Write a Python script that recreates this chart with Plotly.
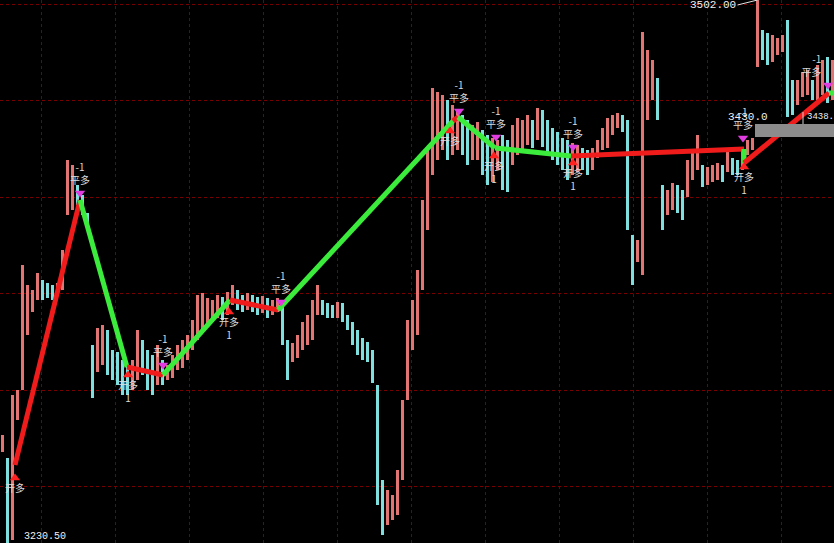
import plotly.graph_objects as go

# ---- price cloud (one column per ~5px of the screenshot) ----
highs = [3284.5, 3273, 3304.5, 3307, 3369.5, 3359.5, 3357, 3365.5, 3362, 3360.5,
         3359.5, 3360.5, 3377, 3422, 3419.5, 3409.5, 3404.5, 3395.5, 3329.5, 3338,
         3339.5, 3337, 3327, 3326, 3322, 3319.5, 3322, 3337, 3332, 3327,
         3324.5, 3329.5, 3322, 3319.5, 3324.5, 3329.5, 3332, 3334.5, 3342, 3354.5,
         3355.5, 3353, 3352, 3354.5, 3353.5, 3356, 3359.5, 3357, 3354.5, 3355.5,
         3354.5, 3353.5, 3354, 3353, 3352, 3353, 3349.5, 3332, 3330.5, 3334.5,
         3341, 3344.5, 3352, 3359.5, 3352, 3350.5, 3349.5, 3351, 3350.5, 3344.5,
         3341, 3337, 3333, 3331, 3327, 3309.5, 3262, 3257, 3254.5, 3267,
         3302, 3342, 3352, 3367, 3402, 3427, 3458, 3456, 3454.5, 3452,
         3449.5, 3447, 3444.5, 3442, 3439.5, 3441, 3437, 3434.5, 3433, 3432,
         3434.5, 3432, 3439.5, 3443, 3442, 3444.5, 3442, 3448, 3447, 3442,
         3438, 3436, 3433, 3432, 3430.5, 3429.5, 3428, 3427, 3428, 3432,
         3438, 3443, 3444.5, 3445.5, 3444.5, 3442, 3384.5, 3382, 3486, 3477,
         3472, 3463, 3409.5, 3407, 3410.5, 3409.5, 3407, 3422, 3427, 3434.5,
         3419.5, 3418.5, 3419.5, 3420.5, 3419.5, 3427, 3423, 3422, 3428.5, 3432,
         3433, 3502, 3487, 3485.5, 3484.5, 3483, 3484.5, 3492, 3462, 3462,
         3466, 3467, 3462, 3469.5, 3472, 3473.5, 3472]
lows = [3276, 3230.5, 3232, 3292, 3307, 3334.5, 3346, 3352, 3352, 3353,
        3352, 3355.5, 3357, 3394.5, 3397, 3399.5, 3394.5, 3388, 3303, 3316,
        3319.5, 3314.5, 3312, 3309.5, 3304.5, 3304.5, 3307, 3312, 3314.5, 3307,
        3304.5, 3309.5, 3309.5, 3312, 3313, 3317, 3318, 3322, 3327, 3332,
        3337, 3339.5, 3341, 3343, 3342, 3344.5, 3349.5, 3347, 3346, 3347,
        3346, 3344.5, 3345.5, 3343, 3344.5, 3346, 3329.5, 3312, 3321, 3323,
        3327, 3329.5, 3332, 3344.5, 3344.5, 3343, 3343, 3343, 3341, 3337,
        3329.5, 3324.5, 3322, 3321, 3310.5, 3249.5, 3234.5, 3239.5, 3242, 3244.5,
        3262, 3302, 3327, 3334.5, 3357, 3387, 3414.5, 3422, 3427, 3422,
        3424.5, 3427, 3424.5, 3419.5, 3422, 3422, 3414.5, 3409.5, 3411, 3417,
        3407, 3406, 3419.5, 3424.5, 3427, 3429.5, 3428, 3432, 3428.5, 3424.5,
        3422, 3419.5, 3417, 3412, 3414.5, 3416, 3417, 3414.5, 3417, 3423,
        3427, 3428, 3434.5, 3438, 3436, 3387, 3359.5, 3371, 3364.5, 3442,
        3452, 3442, 3387, 3394.5, 3397, 3395.5, 3392, 3403.5, 3412, 3417,
        3408.5, 3409.5, 3411, 3412, 3411, 3416, 3414.5, 3414.5, 3417, 3424.5,
        3427, 3468.5, 3472, 3469.5, 3471, 3474.5, 3476, 3443.5, 3444.5, 3449.5,
        3453.5, 3454.5, 3452, 3452, 3454.5, 3450.5, 3452]

# ---- zig-zag legs ----
zig_x = [2.5, 15.5, 24.9, 32.1, 45.5, 55.1, 90.1, 91.1, 98.5, 113.7, 148.3, 148.3, 165.3, 166.3]
zig_y = [3269.5, 3402, 3318.5, 3314.5, 3352, 3347, 3441.5, 3443.5, 3428, 3424, 3427.5, 3420.5, 3455.5, 3455.5]
leg_side = ["多", "空", "多", "空", "多", "空", "多", "空", "空", "多", "空", "多", "空"]

# ---- signals ----
open_x = [2.5, 25.1, 45.3, 89.5, 98.3, 114.1, 148.3]
open_y = [3263, 3314.5, 3346, 3436.5, 3424, 3420.5, 3418.5]
open_text = ["开多", "开多<br>1", "开多<br>1", "开多", "开多<br>1", "开多<br>1", "开多<br>1"]
close_x = [15.5, 32.1, 55.7, 91.3, 98.7, 114.1, 148.1, 165.1]
close_y = [3405.5, 3319.5, 3351, 3446.5, 3433.5, 3428.5, 3433, 3459.5]
close_text = ["-1<br>平多"] * 8

line_labels = ["3430.0", "3438."]

n = len(highs)
idx = list(range(n))
mids = [(h + l) / 2 for h, l in zip(highs, lows)]
colors = []
for i in range(n):
    prev = mids[i - 1] if i > 0 else mids[i]
    colors.append("#e27474" if mids[i] >= prev else "#7fdede")

fig = go.Figure()
fig.add_trace(go.Bar(
    x=idx, y=[h - l for h, l in zip(highs, lows)], base=lows,
    width=0.55, marker=dict(color=colors, line=dict(width=0)),
    hoverinfo="skip", showlegend=False))

side_color = {"多": "#f01c1c", "空": "#3cec3c"}
for k, s in enumerate(leg_side):
    fig.add_trace(go.Scatter(
        x=zig_x[k:k + 2], y=zig_y[k:k + 2], mode="lines",
        line=dict(color=side_color[s], width=5),
        hoverinfo="skip", showlegend=False))

txtfont = dict(family="Noto Sans CJK SC", size=10, color="#dcdcdc")
fig.add_trace(go.Scatter(
    x=open_x, y=open_y, mode="markers+text", text=open_text,
    textposition="bottom center", textfont=txtfont,
    marker=dict(symbol="triangle-up", size=9, color="#ff2020"),
    hoverinfo="skip", showlegend=False))
close_pos = ["top center"] * (len(close_x) - 1) + ["top left"]
fig.add_trace(go.Scatter(
    x=close_x, y=close_y, mode="markers+text", text=close_text,
    textposition=close_pos, textfont=txtfont,
    marker=dict(symbol="triangle-down", size=9, color="#e03ce0"),
    hoverinfo="skip", showlegend=False))

hi = max(highs)
ihi = highs.index(hi)
lo = min(lows)
ilo = lows.index(lo)
mono = dict(family="Liberation Mono", size=11, color="#f0f0f0")
mono_s = dict(family="Liberation Mono", size=10, color="#f0f0f0")
mono_xs = dict(family="Liberation Mono", size=9, color="#f0f0f0")
fig.add_annotation(x=ihi, y=hi, text=f"{hi:.2f}", showarrow=True, arrowhead=0,
                   arrowwidth=1, arrowcolor="#e0e0e0", ax=-20, ay=5,
                   xanchor="right", yanchor="middle", font=mono)
fig.add_annotation(x=ilo, y=lo, text=f"{lo:.2f}", showarrow=False,
                   xanchor="left", yanchor="bottom", xshift=14, yshift=-1, font=mono_s)
fig.add_annotation(x=144.6, y=3443.5, text=line_labels[0], showarrow=False,
                   xanchor="left", yanchor="middle", font=mono)
fig.add_annotation(x=160.4, y=3443.5, text=line_labels[1], showarrow=False,
                   xanchor="left", yanchor="middle", font=mono_xs)

fig.add_shape(type="rect", xref="paper", yref="paper",
              x0=755 / 834, x1=1, y0=1 - 137 / 543, y1=1 - 124 / 543,
              fillcolor="#8c8c8c", line=dict(width=0), layer="above")
fig.add_shape(type="line", xref="paper", yref="paper",
              x0=803 / 834, x1=803 / 834, y0=1 - 124 / 543, y1=1 - 112 / 543,
              line=dict(color="#d0d0d0", width=1))

grid = dict(showgrid=True, gridcolor="#7a0000", griddash="dot", gridwidth=1,
            zeroline=False, showticklabels=False, ticks="", showline=False)
fig.update_xaxes(range=[-0.5, 166.3], tick0=7.7, dtick=14.8, **grid)
fig.update_yaxes(range=[3230.5, 3502], tick0=3500, dtick=48.25, **grid)
fig.update_layout(width=834, height=543,
                  margin=dict(l=0, r=0, t=0, b=0, pad=0, autoexpand=False),
                  paper_bgcolor="#000000", plot_bgcolor="#000000",
                  bargap=0, showlegend=False)
fig.write_html("out.html", config={"displayModeBar": False},
               post_script="document.body.style.margin='0';document.body.style.background='#000';document.body.style.overflow='hidden';")
